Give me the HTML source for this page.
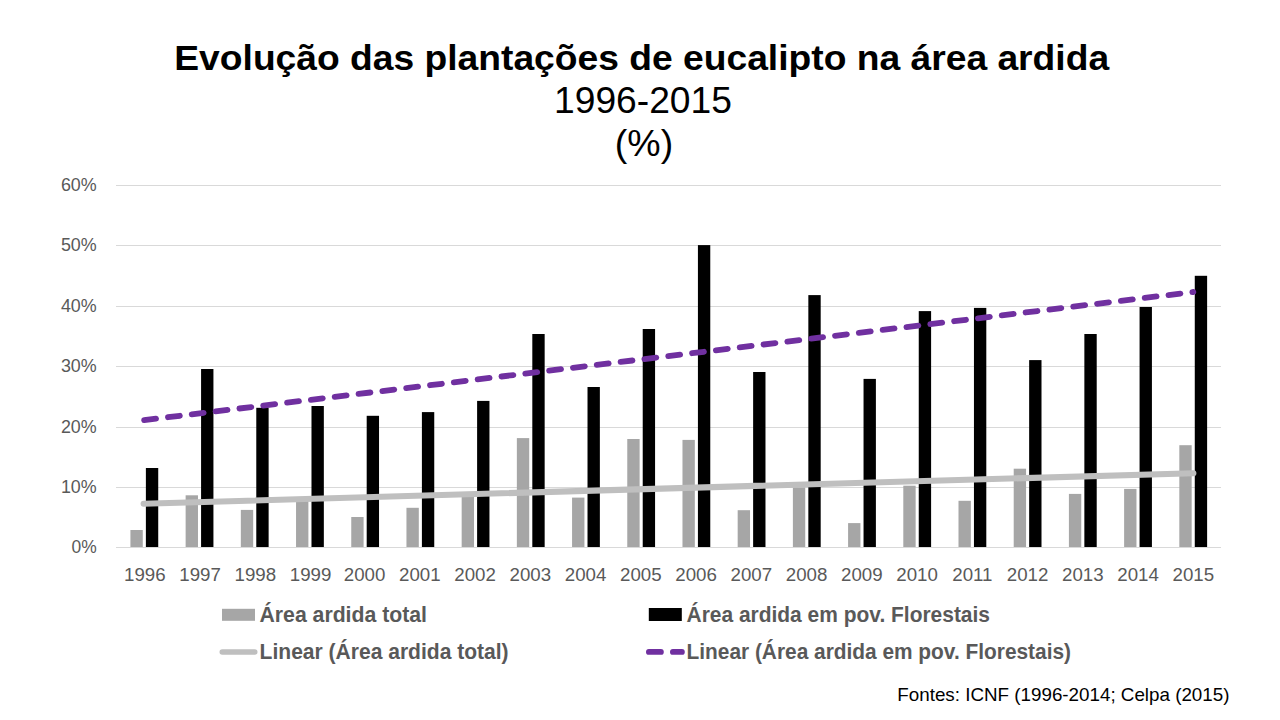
<!DOCTYPE html>
<html><head><meta charset="utf-8"><style>
html,body{margin:0;padding:0;background:#fff;}
body{width:1280px;height:720px;overflow:hidden;position:relative;}
svg{position:absolute;left:0;top:0;}
text{font-family:"Liberation Sans",sans-serif;}
.ax{font-size:18.7px;fill:#595959;}
.lg{font-size:21.2px;font-weight:bold;fill:#595959;}
.t1{font-size:35.6px;font-weight:bold;fill:#000;}
.t2{font-size:36px;fill:#000;}
.src{font-size:18.1px;fill:#000;}
</style></head><body>
<svg width="1280" height="720" viewBox="0 0 1280 720">
<text x="174.3" y="70.3" class="t1" textLength="934.8" lengthAdjust="spacingAndGlyphs">Evolução das plantações de eucalipto na área ardida</text>
<text x="643" y="113.2" class="t2" text-anchor="middle" textLength="177.9" lengthAdjust="spacingAndGlyphs">1996-2015</text>
<text x="644" y="156.3" class="t2" text-anchor="middle" textLength="58.3" lengthAdjust="spacingAndGlyphs">(%)</text>
<rect x="116.0" y="547" width="1105.0" height="1" fill="#d9d9d9"/>
<rect x="116.0" y="487" width="1105.0" height="1" fill="#d9d9d9"/>
<rect x="116.0" y="427" width="1105.0" height="1" fill="#d9d9d9"/>
<rect x="116.0" y="366" width="1105.0" height="1" fill="#d9d9d9"/>
<rect x="116.0" y="306" width="1105.0" height="1" fill="#d9d9d9"/>
<rect x="116.0" y="245" width="1105.0" height="1" fill="#d9d9d9"/>
<rect x="116.0" y="185" width="1105.0" height="1" fill="#d9d9d9"/>
<rect x="130.42" y="530.00" width="12.35" height="17.00" fill="#a6a6a6"/>
<rect x="145.88" y="468.00" width="12.35" height="79.00" fill="#000"/>
<rect x="185.63" y="495.30" width="12.35" height="51.70" fill="#a6a6a6"/>
<rect x="201.08" y="369.00" width="12.35" height="178.00" fill="#000"/>
<rect x="240.83" y="509.90" width="12.35" height="37.10" fill="#a6a6a6"/>
<rect x="256.28" y="407.80" width="12.35" height="139.20" fill="#000"/>
<rect x="296.04" y="498.50" width="12.35" height="48.50" fill="#a6a6a6"/>
<rect x="311.49" y="406.00" width="12.35" height="141.00" fill="#000"/>
<rect x="351.25" y="517.00" width="12.35" height="30.00" fill="#a6a6a6"/>
<rect x="366.69" y="415.80" width="12.35" height="131.20" fill="#000"/>
<rect x="406.45" y="507.80" width="12.35" height="39.20" fill="#a6a6a6"/>
<rect x="421.90" y="412.10" width="12.35" height="134.90" fill="#000"/>
<rect x="461.66" y="494.90" width="12.35" height="52.10" fill="#a6a6a6"/>
<rect x="477.11" y="400.90" width="12.35" height="146.10" fill="#000"/>
<rect x="516.86" y="438.10" width="12.35" height="108.90" fill="#a6a6a6"/>
<rect x="532.31" y="334.00" width="12.35" height="213.00" fill="#000"/>
<rect x="572.07" y="497.60" width="12.35" height="49.40" fill="#a6a6a6"/>
<rect x="587.51" y="387.00" width="12.35" height="160.00" fill="#000"/>
<rect x="627.27" y="439.00" width="12.35" height="108.00" fill="#a6a6a6"/>
<rect x="642.72" y="329.00" width="12.35" height="218.00" fill="#000"/>
<rect x="682.48" y="439.90" width="12.35" height="107.10" fill="#a6a6a6"/>
<rect x="697.92" y="245.10" width="12.35" height="301.90" fill="#000"/>
<rect x="737.68" y="510.20" width="12.35" height="36.80" fill="#a6a6a6"/>
<rect x="753.13" y="372.00" width="12.35" height="175.00" fill="#000"/>
<rect x="792.89" y="487.50" width="12.35" height="59.50" fill="#a6a6a6"/>
<rect x="808.34" y="295.10" width="12.35" height="251.90" fill="#000"/>
<rect x="848.09" y="523.10" width="12.35" height="23.90" fill="#a6a6a6"/>
<rect x="863.54" y="378.90" width="12.35" height="168.10" fill="#000"/>
<rect x="903.30" y="485.70" width="12.35" height="61.30" fill="#a6a6a6"/>
<rect x="918.75" y="311.10" width="12.35" height="235.90" fill="#000"/>
<rect x="958.50" y="500.80" width="12.35" height="46.20" fill="#a6a6a6"/>
<rect x="973.95" y="307.90" width="12.35" height="239.10" fill="#000"/>
<rect x="1013.71" y="468.70" width="12.35" height="78.30" fill="#a6a6a6"/>
<rect x="1029.15" y="360.10" width="12.35" height="186.90" fill="#000"/>
<rect x="1068.91" y="493.90" width="12.35" height="53.10" fill="#a6a6a6"/>
<rect x="1084.36" y="334.00" width="12.35" height="213.00" fill="#000"/>
<rect x="1124.12" y="488.90" width="12.35" height="58.10" fill="#a6a6a6"/>
<rect x="1139.57" y="307.00" width="12.35" height="240.00" fill="#000"/>
<rect x="1179.32" y="445.20" width="12.35" height="101.80" fill="#a6a6a6"/>
<rect x="1194.77" y="275.80" width="12.35" height="271.20" fill="#000"/>
<line x1="143.62" y1="503.7" x2="1193.38" y2="473.2" stroke="#bfbfbf" stroke-width="6.1" stroke-linecap="round"/>
<line x1="143.62" y1="420.2" x2="1193.38" y2="292.0" stroke="#7030a0" stroke-width="5.8" stroke-linecap="round" stroke-dasharray="12 12" stroke-dashoffset="-0.5"/>
<text x="144.82" y="581.1" text-anchor="middle" class="ax">1996</text>
<text x="200.07" y="581.1" text-anchor="middle" class="ax">1997</text>
<text x="255.32" y="581.1" text-anchor="middle" class="ax">1998</text>
<text x="310.57" y="581.1" text-anchor="middle" class="ax">1999</text>
<text x="364.62" y="581.1" text-anchor="middle" class="ax">2000</text>
<text x="419.88" y="581.1" text-anchor="middle" class="ax">2001</text>
<text x="475.12" y="581.1" text-anchor="middle" class="ax">2002</text>
<text x="530.38" y="581.1" text-anchor="middle" class="ax">2003</text>
<text x="585.62" y="581.1" text-anchor="middle" class="ax">2004</text>
<text x="640.88" y="581.1" text-anchor="middle" class="ax">2005</text>
<text x="696.12" y="581.1" text-anchor="middle" class="ax">2006</text>
<text x="751.38" y="581.1" text-anchor="middle" class="ax">2007</text>
<text x="806.62" y="581.1" text-anchor="middle" class="ax">2008</text>
<text x="861.88" y="581.1" text-anchor="middle" class="ax">2009</text>
<text x="917.12" y="581.1" text-anchor="middle" class="ax">2010</text>
<text x="972.38" y="581.1" text-anchor="middle" class="ax">2011</text>
<text x="1027.62" y="581.1" text-anchor="middle" class="ax">2012</text>
<text x="1082.88" y="581.1" text-anchor="middle" class="ax">2013</text>
<text x="1138.12" y="581.1" text-anchor="middle" class="ax">2014</text>
<text x="1193.38" y="581.1" text-anchor="middle" class="ax">2015</text>
<text x="96.7" y="553.30" text-anchor="end" class="ax" textLength="25.2" lengthAdjust="spacingAndGlyphs">0%</text>
<text x="96.7" y="493.30" text-anchor="end" class="ax" textLength="35.8" lengthAdjust="spacingAndGlyphs">10%</text>
<text x="96.7" y="433.30" text-anchor="end" class="ax" textLength="35.8" lengthAdjust="spacingAndGlyphs">20%</text>
<text x="96.7" y="372.30" text-anchor="end" class="ax" textLength="35.8" lengthAdjust="spacingAndGlyphs">30%</text>
<text x="96.7" y="312.30" text-anchor="end" class="ax" textLength="35.8" lengthAdjust="spacingAndGlyphs">40%</text>
<text x="96.7" y="251.30" text-anchor="end" class="ax" textLength="35.8" lengthAdjust="spacingAndGlyphs">50%</text>
<text x="96.7" y="191.30" text-anchor="end" class="ax" textLength="35.8" lengthAdjust="spacingAndGlyphs">60%</text>
<rect x="222" y="608.8" width="33" height="12" fill="#a6a6a6"/>
<rect x="648.8" y="608" width="33" height="13" fill="#000"/>
<line x1="222.3" y1="652" x2="254.7" y2="652" stroke="#bfbfbf" stroke-width="5.6" stroke-linecap="round"/>
<line x1="648.9" y1="651.9" x2="660.9" y2="651.9" stroke="#7030a0" stroke-width="5.8" stroke-linecap="round"/>
<line x1="672.9" y1="651.9" x2="681.9" y2="651.9" stroke="#7030a0" stroke-width="5.8" stroke-linecap="round"/>
<text x="259.5" y="621.5" class="lg" textLength="167.5" lengthAdjust="spacingAndGlyphs">Área ardida total</text>
<text x="686.5" y="621.5" class="lg" textLength="303.5" lengthAdjust="spacingAndGlyphs">Área ardida em pov. Florestais</text>
<text x="259.6" y="658.5" class="lg" textLength="249" lengthAdjust="spacingAndGlyphs">Linear (Área ardida total)</text>
<text x="686.5" y="658.5" class="lg" textLength="384.5" lengthAdjust="spacingAndGlyphs">Linear (Área ardida em pov. Florestais)</text>
<text x="897.3" y="700.9" class="src" textLength="332.2" lengthAdjust="spacingAndGlyphs">Fontes: ICNF (1996-2014; Celpa (2015)</text>
</svg>
</body></html>
